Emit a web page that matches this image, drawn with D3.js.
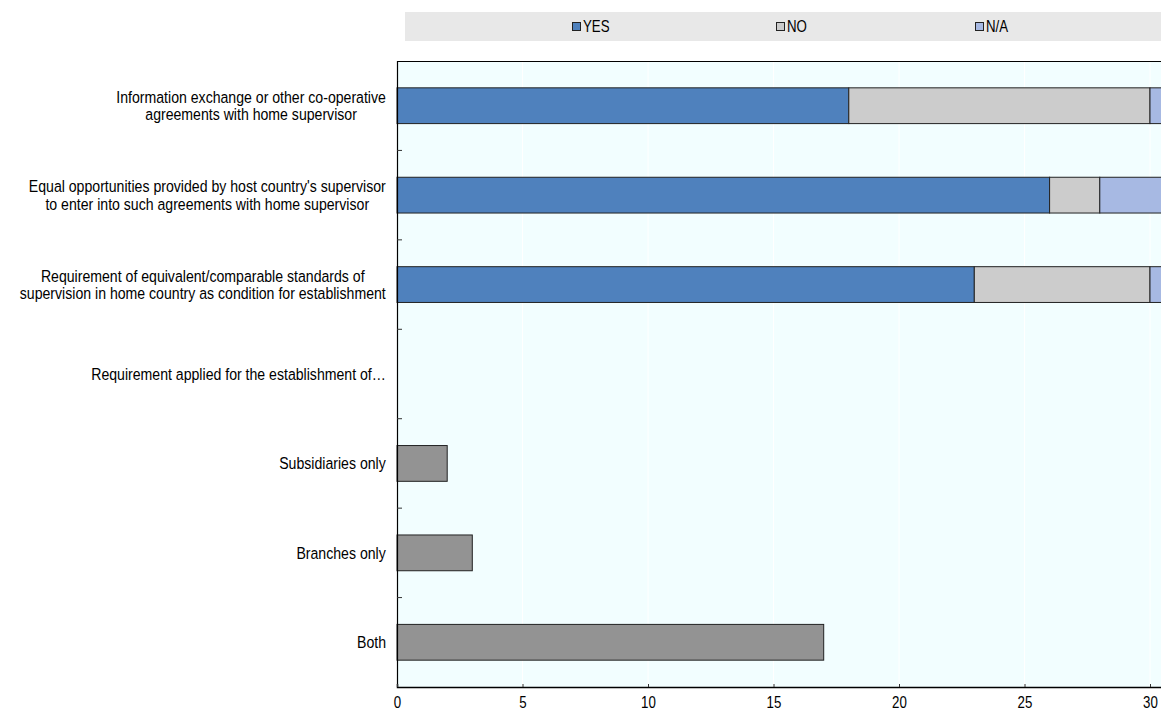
<!DOCTYPE html>
<html><head><meta charset="utf-8">
<script src="https://cdn.jsdelivr.net/npm/d3@7"></script>
<style>
body{margin:0;background:#fff;}
text{font-family:"Liberation Sans",Arial,sans-serif;}
</style></head>
<body><svg id="c" width="1161" height="711"></svg>
<script>
const categories = [
  ["Information exchange or other co-operative","agreements with home supervisor"],
  ["Equal opportunities provided by host country's supervisor","to enter into such agreements with home supervisor"],
  ["Requirement of equivalent/comparable standards of","supervision in home country as condition for establishment"],
  ["Requirement applied for the establishment of…"],
  ["Subsidiaries only"],
  ["Branches only"],
  ["Both"]
];
const seriesNames = ["YES","NO","N/A","Total"];
const yesValues   = [18, 26, 23, 0, 0, 0, 0];
const noValues    = [12, 2, 7, 0, 0, 0, 0];
const naValues    = [1, 3, 1, 0, 0, 0, 0];
const totalValues = [0, 0, 0, 0, 2, 3, 17];
const xTicks = [0,5,10,15,20,25,30];
const colors = ["#4f81bd","#cccccc","#a7b9e3","#939393"];

(function(){
const svg = d3.select("#c");
const pL = 397, pT = 61, pB = 687;
const SX = 0.83;
const x = d3.scaleLinear().domain([0,35]).range([pL, pL + 35*25.1]);
const y = d3.scaleBand().domain(d3.range(categories.length)).range([pT,pB]).paddingInner(0.6).paddingOuter(0.3);

svg.append("rect").attr("x",pL).attr("y",pT).attr("width",x(35)-pL).attr("height",pB-pT).attr("fill","#f2feff");
svg.append("g").selectAll("line").data(xTicks.slice(1)).join("line")
  .attr("x1",d=>x(d)).attr("x2",d=>x(d)).attr("y1",pT).attr("y2",pB)
  .attr("stroke","#ffffff").attr("stroke-width",1);
svg.append("line").attr("x1",pL).attr("x2",1161).attr("y1",pT+0.5).attr("y2",pT+0.5).attr("stroke","#000").attr("stroke-width",1);

const stackData = categories.map((c,i)=>({i, YES:yesValues[i], NO:noValues[i], "N/A":naValues[i], Total: totalValues[i]}));
const stack = d3.stack().keys(seriesNames)(stackData);
svg.append("g").selectAll("g").data(stack).join("g")
  .attr("fill",(d,k)=>colors[k])
  .selectAll("rect").data(d=>d.filter(e=>e[1]-e[0]>0)).join("rect")
  .attr("x",d=>x(d[0])).attr("width",d=>x(d[1])-x(d[0]))
  .attr("y",d=>y(d.data.i)).attr("height",y.bandwidth())
  .attr("stroke","#222").attr("stroke-width",1);

svg.append("line").attr("x1",pL+0.5).attr("x2",pL+0.5).attr("y1",pT).attr("y2",pB).attr("stroke","#000").attr("stroke-width",1.2);
const step = y.step();
svg.append("g").selectAll("line").data(d3.range(1,categories.length)).join("line")
  .attr("x1",pL).attr("x2",pL+5).attr("y1",d=>pT+d*step).attr("y2",d=>pT+d*step)
  .attr("stroke","#333");

// x axis
const xAxis = svg.append("g").attr("transform",`translate(0,${pB})`)
  .call(d3.axisBottom(x).tickValues(xTicks).tickSize(-3).tickPadding(0));
xAxis.select(".domain").attr("stroke","#000").attr("stroke-width",1.5);
xAxis.selectAll(".tick line").attr("stroke","#333");
xAxis.selectAll(".tick text").attr("font-size",16).attr("fill","#000")
  .attr("y",0).attr("dy",0)
  .attr("transform",`translate(0,21) scale(${SX},1)`)
  .style("font-family",'"Liberation Sans",Arial,sans-serif');

// y labels
const labG = svg.append("g");
categories.forEach((lines,i)=>{
  const cy = y(i) + y.bandwidth()/2;
  const g = labG.append("g");
  const t = g.append("text").attr("font-size",17).attr("fill","#000").attr("text-anchor","middle");
  lines.forEach((ln,j)=>{
    t.append("tspan").attr("x",0).attr("y", cy + (j-(lines.length-1)/2)*17.5 + 6).text(ln);
  });
  const bw = t.node().getBBox().width * SX;
  g.attr("transform",`translate(${386 - bw/2},0) scale(${SX},1)`);
});

// legend
svg.append("rect").attr("x",405).attr("y",12).attr("width",756).attr("height",29).attr("fill","#e8e8e8");
const legX = [572, 776, 975];
seriesNames.slice(0,3).forEach((s,k)=>{
  svg.append("rect").attr("x",legX[k]+0.5).attr("y",22.5).attr("width",8).attr("height",8)
    .attr("fill",colors[k]).attr("stroke","#222").attr("stroke-width",1);
  svg.append("text").attr("transform",`translate(${legX[k]+11},32) scale(${SX},1)`)
    .attr("font-size",16).attr("fill","#000").text(s);
});
})();
</script></body></html>
